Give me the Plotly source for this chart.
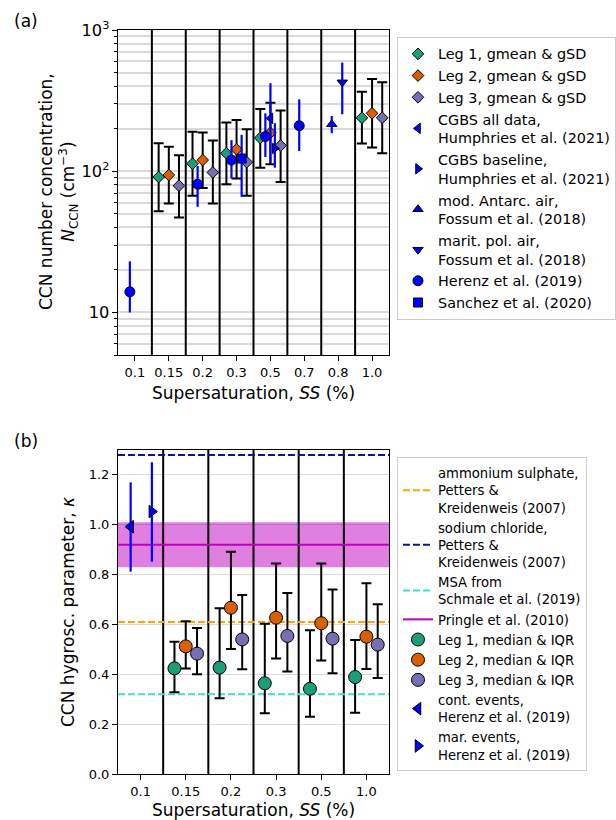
import math
import plotly.graph_objects as go

# ---------------- data: panel (a) ----------------
ss_top = ["0.1", "0.15", "0.2", "0.3", "0.5", "0.7", "0.8", "1.0"]
leg_cats_top = ["0.15", "0.2", "0.3", "0.5", "1.0"]

leg1_gmean = [91, 113, 134, 172, 239]
leg1_hi = [158, 190, 221, 276, 366]
leg1_lo = [52, 67, 81, 106, 157]
leg2_gmean = [94, 120, 143, 187, 257]
leg2_hi = [149, 188, 231, 306, 450]
leg2_lo = [59, 76, 89, 112, 147]
leg3_gmean = [79, 98, 116, 152, 239]
leg3_hi = [130, 165, 198, 269, 426]
leg3_lo = [47, 59, 67, 84, 134]

herenz_cats = ["0.1", "0.2", "0.3", "0.5", "0.7"]
herenz_n = [14, 81, 120, 176, 210]
herenz_hi = [23, 109, 166, 257, 323]
herenz_lo = [10, 56, 89, 126, 139]

sanchez_cats = ["0.3"]
sanchez_n = [123]
sanchez_hi = [181]
sanchez_lo = [66]

cgbs_all_cats = ["0.5"]
cgbs_all_n = [237]
cgbs_all_hi = [420]
cgbs_all_lo = [115]

cgbs_base_cats = ["0.5"]
cgbs_base_n = [145]
cgbs_base_hi = [219]
cgbs_base_lo = [106]

antarc_cats = ["0.8"]
antarc_n = [215]
antarc_hi = [246]
antarc_lo = [186]

marit_cats = ["0.8"]
marit_n = [426]
marit_hi = [588]
marit_lo = [253]

# ---------------- data: panel (b) ----------------
ss_bot = ["0.1", "0.15", "0.2", "0.3", "0.5", "1.0"]
leg_cats_bot = ["0.15", "0.2", "0.3", "0.5", "1.0"]

leg1_med = [0.424, 0.427, 0.364, 0.342, 0.389]
leg1_q1 = [0.328, 0.304, 0.244, 0.230, 0.246]
leg1_q3 = [0.531, 0.665, 0.603, 0.577, 0.538]
leg2_med = [0.512, 0.667, 0.627, 0.605, 0.551]
leg2_q1 = [0.423, 0.502, 0.463, 0.455, 0.421]
leg2_q3 = [0.613, 0.892, 0.845, 0.845, 0.765]
leg3_med = [0.483, 0.540, 0.554, 0.543, 0.519]
leg3_q1 = [0.400, 0.420, 0.411, 0.404, 0.385]
leg3_q3 = [0.586, 0.718, 0.726, 0.740, 0.681]

cont_cats = ["0.1"]
cont_k = [0.992]
cont_hi = [1.170]
cont_lo = [0.812]
mar_cats = ["0.1"]
mar_k = [1.053]
mar_hi = [1.251]
mar_lo = [0.852]

kappa_ammonium_sulphate = 0.61
kappa_sodium_chloride = 1.28
kappa_msa = 0.32
kappa_pringle = 0.92
kappa_pringle_lo = 0.83
kappa_pringle_hi = 1.01

# ---------------- styling ----------------
W, H = 616, 820
FONT = "DejaVu Sans"
C1, C2, C3 = "#1b9e77", "#d95f02", "#7570b3"
BLUE = "#0000ff"
GRID = "#d9d9d9"
DASH = "7px,3px"
YRANGE_TOP = [5, 1000]
YRANGE_BOT = [0, 1.3]


def px_x(p):
    return p / W


def px_y(p):
    return 1 - p / H


def pos(cats, sel, off):
    return [cats.index(c) + off for c in sel]


def up(v, hi):
    return [h - x for x, h in zip(v, hi)]


def down(v, lo):
    return [x - l for x, l in zip(v, lo)]


def separators(n, yr, xa, ya):
    xs, ys = [], []
    for i in range(n - 1):
        xs += [i + 0.5, i + 0.5, None]
        ys += [yr[0], yr[1], None]
    return go.Scatter(x=xs, y=ys, mode="lines", xaxis=xa, yaxis=ya, showlegend=False,
                      hoverinfo="skip", line=dict(color="black", width=2))


fig = go.Figure()


def leg_trace(x, y, hi, lo, color, name, symbol, size, xa, ya, legend):
    return go.Scatter(
        x=x, y=y, mode="markers", name=name, xaxis=xa, yaxis=ya, legend=legend,
        marker=dict(symbol=symbol, size=size, color=color, line=dict(color="black", width=1)),
        error_y=dict(type="data", symmetric=False, array=up(y, hi), arrayminus=down(y, lo),
                     color="black", thickness=2, width=5),
    )


def ref_trace(x, y, hi, lo, name, symbol, size, xa, ya, legend):
    return go.Scatter(
        x=x, y=y, mode="markers", name=name, xaxis=xa, yaxis=ya, legend=legend,
        marker=dict(symbol=symbol, size=size, color=BLUE, line=dict(color="black", width=1)),
        error_y=dict(type="data", symmetric=False, array=up(y, hi), arrayminus=down(y, lo),
                     color=BLUE, thickness=2.2, width=0),
    )


# ---- panel (a) traces ----
fig.add_trace(separators(len(ss_top), YRANGE_TOP, "x", "y"))
fig.add_trace(leg_trace(pos(ss_top, leg_cats_top, -0.3), leg1_gmean, leg1_hi, leg1_lo, C1,
                        "Leg 1, gmean & gSD", "diamond", 9, "x", "y", "legend"))
fig.add_trace(leg_trace(pos(ss_top, leg_cats_top, 0.0), leg2_gmean, leg2_hi, leg2_lo, C2,
                        "Leg 2, gmean & gSD", "diamond", 9, "x", "y", "legend"))
fig.add_trace(leg_trace(pos(ss_top, leg_cats_top, 0.3), leg3_gmean, leg3_hi, leg3_lo, C3,
                        "Leg 3, gmean & gSD", "diamond", 9, "x", "y", "legend"))
fig.add_trace(ref_trace(pos(ss_top, cgbs_all_cats, 0.0), cgbs_all_n, cgbs_all_hi, cgbs_all_lo,
                        "CGBS all data,<br>Humphries et al. (2021)", "triangle-left", 9, "x", "y", "legend"))
fig.add_trace(ref_trace(pos(ss_top, cgbs_base_cats, 0.13), cgbs_base_n, cgbs_base_hi, cgbs_base_lo,
                        "CGBS baseline,<br>Humphries et al. (2021)", "triangle-right", 9, "x", "y", "legend"))
fig.add_trace(ref_trace(pos(ss_top, antarc_cats, -0.19), antarc_n, antarc_hi, antarc_lo,
                        "mod. Antarc. air,<br>Fossum et al. (2018)", "triangle-up", 9, "x", "y", "legend"))
fig.add_trace(ref_trace(pos(ss_top, marit_cats, 0.12), marit_n, marit_hi, marit_lo,
                        "marit. pol. air,<br>Fossum et al. (2018)", "triangle-down", 9, "x", "y", "legend"))
fig.add_trace(ref_trace(pos(ss_top, herenz_cats, -0.15), herenz_n, herenz_hi, herenz_lo,
                        "Herenz et al. (2019)", "circle", 10, "x", "y", "legend"))
fig.add_trace(ref_trace(pos(ss_top, sanchez_cats, 0.15), sanchez_n, sanchez_hi, sanchez_lo,
                        "Sanchez et al. (2020)", "square", 9, "x", "y", "legend"))

# ---- panel (b) traces ----
xb0, xb1 = -0.5, len(ss_bot) - 0.5
fig.add_trace(go.Scatter(x=[xb0, xb1, xb1, xb0], y=[kappa_pringle_lo, kappa_pringle_lo,
                                                    kappa_pringle_hi, kappa_pringle_hi],
                         fill="toself", fillcolor="rgba(191,0,191,0.5)", mode="lines",
                         line=dict(width=0), xaxis="x2", yaxis="y2", showlegend=False,
                         hoverinfo="skip"))
fig.add_trace(separators(len(ss_bot), YRANGE_BOT, "x2", "y2"))
for val, color, name in [
    (kappa_ammonium_sulphate, "orange", "ammonium sulphate,<br>Petters &<br>Kreidenweis (2007)"),
    (kappa_sodium_chloride, "#1010a0", "sodium chloride,<br>Petters &<br>Kreidenweis (2007)"),
    (kappa_msa, "#40e0d0", "MSA from<br>Schmale et al. (2019)"),
]:
    fig.add_trace(go.Scatter(x=[xb0, xb1], y=[val, val], mode="lines", name=name,
                             xaxis="x2", yaxis="y2", legend="legend2",
                             line=dict(color=color, width=2, dash=DASH)))
fig.add_trace(go.Scatter(x=[xb0, xb1], y=[kappa_pringle, kappa_pringle], mode="lines",
                         name="Pringle et al. (2010)", xaxis="x2", yaxis="y2", legend="legend2",
                         line=dict(color="#bf00bf", width=2)))

fig.add_trace(leg_trace(pos(ss_bot, leg_cats_bot, -0.25), leg1_med, leg1_q3, leg1_q1, C1,
                        "Leg 1, median & IQR", "circle", 13, "x2", "y2", "legend2"))
fig.add_trace(leg_trace(pos(ss_bot, leg_cats_bot, 0.0), leg2_med, leg2_q3, leg2_q1, C2,
                        "Leg 2, median & IQR", "circle", 13, "x2", "y2", "legend2"))
fig.add_trace(leg_trace(pos(ss_bot, leg_cats_bot, 0.25), leg3_med, leg3_q3, leg3_q1, C3,
                        "Leg 3, median & IQR", "circle", 13, "x2", "y2", "legend2"))
fig.add_trace(ref_trace(pos(ss_bot, cont_cats, -0.22), cont_k, cont_hi, cont_lo,
                        "cont. events,<br>Herenz et al. (2019)", "triangle-left", 11, "x2", "y2", "legend2"))
fig.add_trace(ref_trace(pos(ss_bot, mar_cats, 0.25), mar_k, mar_hi, mar_lo,
                        "mar. events,<br>Herenz et al. (2019)", "triangle-right", 11, "x2", "y2", "legend2"))

# ---- layout ----
tickfont = dict(family=FONT, size=13, color="black")
labfont = dict(family=FONT, size=17, color="black")
legfont_a = dict(family=FONT, size=14.4, color="black")
legfont_b = dict(family=FONT, size=13.2, color="black")

xdom = [px_x(118), px_x(389)]
axis_common = dict(showline=True, mirror=True, linecolor="black", linewidth=1,
                   ticks="outside", ticklen=5, tickwidth=1, tickcolor="black",
                   tickfont=tickfont, zeroline=False, automargin=False)

fig.update_layout(
    width=W, height=H,
    margin=dict(l=0, r=0, t=0, b=0),
    paper_bgcolor="white", plot_bgcolor="white",
    font=dict(family=FONT, color="black"),
    xaxis=dict(domain=xdom, anchor="y", range=[-0.5, len(ss_top) - 0.5],
               tickvals=list(range(len(ss_top))), ticktext=ss_top, showgrid=False, **axis_common),
    yaxis=dict(domain=[px_y(355), px_y(30)], anchor="x", type="log",
               range=[math.log10(YRANGE_TOP[0]), math.log10(YRANGE_TOP[1])], dtick=1,
               exponentformat="power",
               showgrid=True, gridcolor=GRID, gridwidth=1.5,
               minor=dict(ticks="outside", ticklen=3, tickcolor="black", showgrid=True,
                          gridcolor=GRID, gridwidth=1.5, dtick="D1"),
               **axis_common),
    xaxis2=dict(domain=xdom, anchor="y2", range=[-0.5, len(ss_bot) - 0.5],
                tickvals=list(range(len(ss_bot))), ticktext=ss_bot, showgrid=False, **axis_common),
    yaxis2=dict(domain=[px_y(774), px_y(450)], anchor="x2", range=YRANGE_BOT,
                tickvals=[0, 0.2, 0.4, 0.6, 0.8, 1.0, 1.2], tickformat=".1f",
                showgrid=True, gridcolor=GRID, gridwidth=1.2, **axis_common),
    legend=dict(x=px_x(397), y=px_y(37), xanchor="left", yanchor="top",
                bgcolor="white", bordercolor="#cccccc", borderwidth=1, font=legfont_a,
                tracegroupgap=0),
    legend2=dict(x=px_x(397), y=px_y(457), xanchor="left", yanchor="top",
                 bgcolor="white", bordercolor="#cccccc", borderwidth=1, font=legfont_b,
                 tracegroupgap=0),
    showlegend=True,
)

annotations = [
    dict(text="(a)", x=px_x(12), y=px_y(21), xref="paper", yref="paper",
         xanchor="left", yanchor="middle", showarrow=False, font=labfont),
    dict(text="(b)", x=px_x(12), y=px_y(441), xref="paper", yref="paper",
         xanchor="left", yanchor="middle", showarrow=False, font=labfont),
    dict(text="Supersaturation, <i>SS</i> (%)", x=(xdom[0] + xdom[1]) / 2, y=px_y(393),
         xref="paper", yref="paper", xanchor="center", yanchor="middle", showarrow=False, font=labfont),
    dict(text="Supersaturation, <i>SS</i> (%)", x=(xdom[0] + xdom[1]) / 2, y=px_y(810),
         xref="paper", yref="paper", xanchor="center", yanchor="middle", showarrow=False, font=labfont),
    dict(text="CCN number concentration,<br><i>N</i><sub>CCN</sub> (cm<sup>−3</sup>)",
         x=px_x(58), y=px_y(192), xref="paper", yref="paper", xanchor="center", yanchor="middle",
         textangle=-90, showarrow=False, font=labfont),
    dict(text="CCN hygrosc. parameter, <i>κ</i>", x=px_x(68), y=px_y(612),
         xref="paper", yref="paper", xanchor="center", yanchor="middle",
         textangle=-90, showarrow=False, font=labfont),
]
fig.update_layout(annotations=annotations)

fig.write_html("out.html")
